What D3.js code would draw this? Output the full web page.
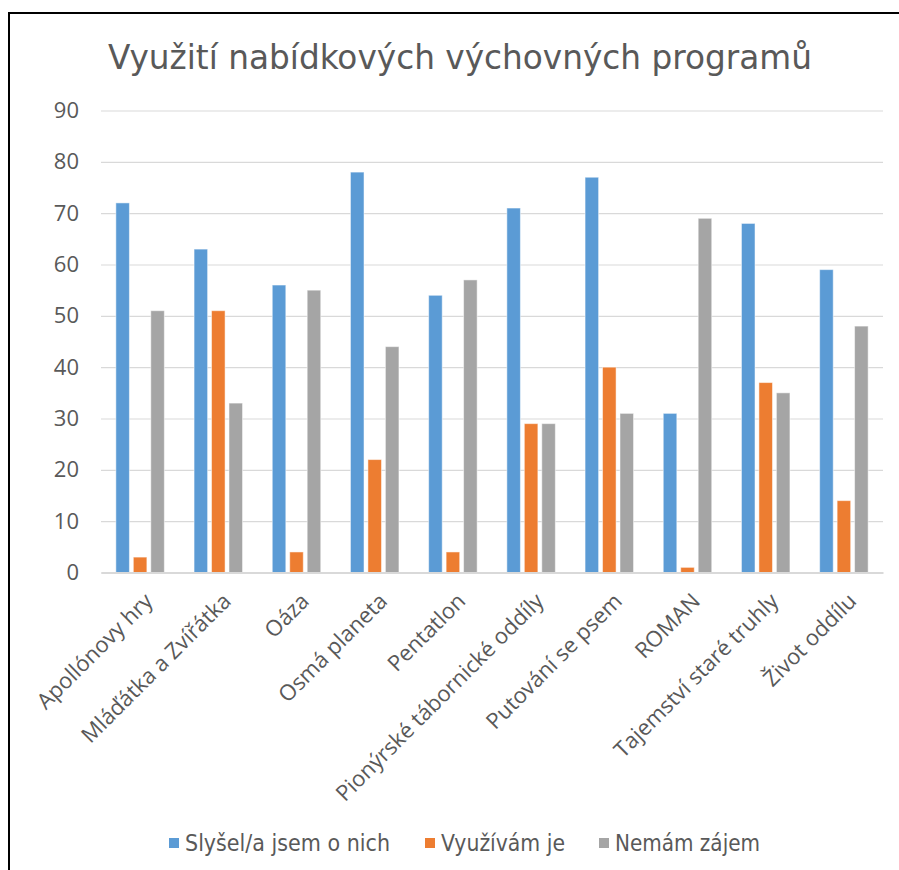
<!DOCTYPE html>
<html>
<head>
<meta charset="utf-8">
<script src="https://cdn.jsdelivr.net/npm/d3@7/dist/d3.min.js"></script>
<style>
html,body{margin:0;padding:0;background:#fff;}
svg{display:block;}
</style>
</head>
<body>
<svg id="chart" width="899" height="870"></svg>
<script>
const title = "Využití nabídkových výchovných programů";
const categories = ["Apollónovy hry","Mláďátka a Zvířátka","Oáza","Osmá planeta","Pentatlon","Pionýrské tábornické oddíly","Putování se psem","ROMAN","Tajemství staré truhly","Život oddílu"];
const seriesNames = ["Slyšel/a jsem o nich","Využívám je","Nemám zájem"];
const heard = [72,63,56,78,54,71,77,31,68,59];
const using = [3,51,4,22,4,29,40,1,37,14];
const notInterested = [51,33,55,44,57,29,31,69,35,48];
const yTicks = [0,10,20,30,40,50,60,70,80,90];
const colors = ["#5B9BD5","#ED7D31","#A5A5A5"];

const seriesValues = [heard, using, notInterested];
const svg = d3.select("#chart");
const W = 899, H = 870;
const m = {left:101, right:16, top:110.5, bottom:297.5};
const plotW = W - m.left - m.right, plotH = H - m.top - m.bottom;

svg.append("rect").attr("x",9).attr("y",13).attr("width",900).attr("height",870)
  .attr("fill","#fff").attr("stroke","#000").attr("stroke-width",2);

svg.append("text").attr("x",108).attr("y",69)
  .attr("font-family","'DejaVu Sans Condensed','DejaVu Sans',sans-serif")
  .attr("font-size",34).attr("fill","#595959")
  .attr("textLength",704).attr("lengthAdjust","spacingAndGlyphs").text(title);

const x0 = d3.scaleBand().domain(categories).range([m.left, m.left+plotW]).paddingInner(0.38).paddingOuter(0.19);
const x1 = d3.scaleBand().domain(d3.range(3)).range([0, x0.bandwidth()]).paddingInner(0.224).paddingOuter(0);
const y = d3.scaleLinear().domain([0,90]).range([m.top+plotH, m.top]);

const g = svg.append("g");
// gridlines
const yAxis = d3.axisLeft(y).tickValues(yTicks).tickSize(-plotW).tickPadding(22);
const ya = g.append("g").attr("transform",`translate(${m.left},0)`).call(yAxis);
ya.select(".domain").remove();
ya.selectAll(".tick line").attr("stroke","#D9D9D9").attr("stroke-width",1.2);
ya.selectAll(".tick text").attr("font-family","'Open Sans','Noto Sans',sans-serif").attr("font-size",22).attr("fill","#595959");

// bars
const groups = g.append("g").selectAll("g").data(categories).join("g")
  .attr("transform", d => `translate(${x0(d)},0)`);
groups.selectAll("rect").data((d,i) => seriesValues.map((s,k)=>({k, v:s[i]}))).join("rect")
  .attr("x", d => x1(d.k)).attr("width", x1.bandwidth())
  .attr("y", d => y(d.v)).attr("height", d => y(0)-y(d.v))
  .attr("fill", d => colors[d.k]).attr("stroke","#fff").attr("stroke-opacity",0.5).attr("stroke-width",1);

// x axis
const xAxis = d3.axisBottom(x0).tickSize(0).tickPadding(0);
const xa = g.append("g").attr("transform",`translate(0,${y(0)})`).call(xAxis);
xa.select(".domain").attr("stroke","#D9D9D9").attr("stroke-width",2);
xa.selectAll(".tick text")
  .attr("font-family","'Open Sans','Noto Sans',sans-serif").attr("font-size",22).attr("fill","#595959")
  .attr("text-anchor","end").attr("dy",null)
  .attr("transform","translate(14,30) rotate(-45)");

// legend
const legendX = [169, 425, 599];
const legendW = [205, 124, 145];
const lg = svg.append("g").selectAll("g").data(seriesNames).join("g")
  .attr("transform",(d,i)=>`translate(${legendX[i]},843)`);
lg.append("rect").attr("x",0).attr("y",-5).attr("width",10).attr("height",10).attr("fill",(d,i)=>colors[i]);
lg.append("text").attr("x",16).attr("y",8)
  .attr("font-family","'DejaVu Sans Condensed','DejaVu Sans',sans-serif")
  .attr("font-size",23).attr("fill","#595959")
  .attr("textLength",(d,i)=>legendW[i]).attr("lengthAdjust","spacingAndGlyphs").text(d=>d);
</script>
</body>
</html>
